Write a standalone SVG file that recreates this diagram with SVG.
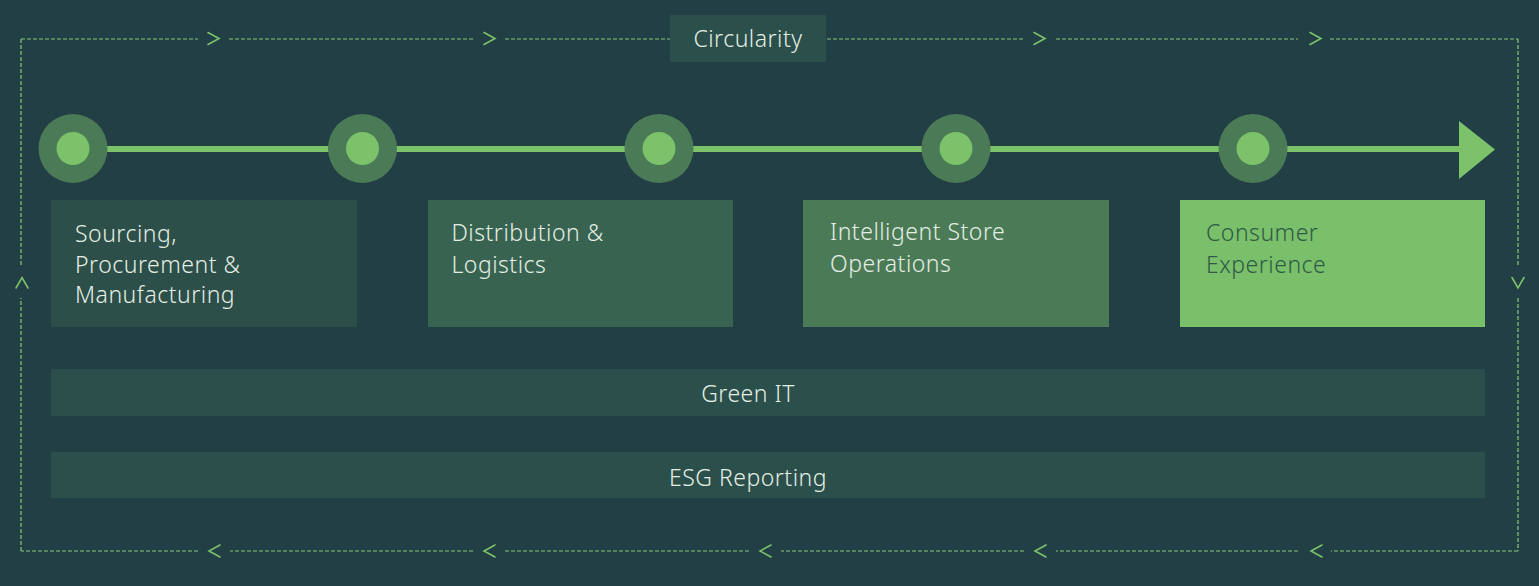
<svg xmlns="http://www.w3.org/2000/svg" width="1539" height="586" viewBox="0 0 1539 586">
  <defs>
    <style>
      .lbl { font-family: "Noto Sans", "Liberation Sans", sans-serif; font-size: 23px; font-weight: 300; letter-spacing: 0.5px; fill: #e4eee4; }
      .lbl-dark { fill: #2e5a46; }
      .mid { text-anchor: middle; }
      .dash { stroke: #86c875; stroke-width: 1.2; stroke-dasharray: 4 2; fill: none; }
      .chev { stroke: #7bc26a; stroke-width: 1.6; fill: none; stroke-linecap: round; stroke-linejoin: miter; }
      .halo { fill: #4b7b56; }
      .dot { fill: #7bc26a; }
    </style>
  </defs>

  <!-- background -->
  <rect x="0" y="0" width="1539" height="586" fill="#233f46"/>

  <!-- circular loop frame with direction chevrons -->
  <g id="connectors">
    <!-- top run -->
    <path class="dash" d="M21 39H198 M229 39H473 M505 39H670 M827 39H1023 M1056 39H1298 M1330 39H1518"/>
    <!-- right run -->
    <path class="dash" d="M1518 39V265 M1518 298V551"/>
    <!-- bottom run -->
    <path class="dash" d="M1518 551H1331 M1298 551H1056 M1024 551H781 M749 551H505 M473 551H230 M198 551H21"/>
    <!-- left run -->
    <path class="dash" d="M21 551V298 M21 265V39"/>

    <!-- top chevrons (pointing right) -->
    <polyline class="chev" points="208,32.5 219,38.5 208,44.5"/>
    <polyline class="chev" points="484,32.5 495,38.5 484,44.5"/>
    <polyline class="chev" points="1034,32.5 1045,38.5 1034,44.5"/>
    <polyline class="chev" points="1310,32.5 1321,38.5 1310,44.5"/>
    <!-- right chevron (pointing down) -->
    <polyline class="chev" points="1512,277.5 1518,288 1524,277.5"/>
    <!-- bottom chevrons (pointing left) -->
    <polyline class="chev" points="220,545 209,551 220,557"/>
    <polyline class="chev" points="495,545 484,551 495,557"/>
    <polyline class="chev" points="771,545 760,551 771,557"/>
    <polyline class="chev" points="1046,545 1035,551 1046,557"/>
    <polyline class="chev" points="1322,545 1311,551 1322,557"/>
    <!-- left chevron (pointing up) -->
    <polyline class="chev" points="16,288 22,277.5 28,288"/>

    <!-- value-chain timeline -->
    <rect x="72" y="146" width="1390" height="6" fill="#7bc26a"/>
    <polygon points="1459,121 1495,149.5 1459,179" fill="#7bc26a"/>
  </g>

  <g id="circularity">
    <rect x="670" y="15" width="156" height="47" fill="#2b4f4a"/>
    <text class="lbl mid" x="748" y="47">Circularity</text>
  </g>

  <!-- timeline milestones -->
  <g id="milestone-1"><circle class="halo" cx="73" cy="148.5" r="34.5"/><circle class="dot" cx="73" cy="148.5" r="16.5"/></g>
  <g id="milestone-2"><circle class="halo" cx="362.5" cy="148.5" r="34.5"/><circle class="dot" cx="362.5" cy="148.5" r="16.5"/></g>
  <g id="milestone-3"><circle class="halo" cx="659" cy="148.5" r="34.5"/><circle class="dot" cx="659" cy="148.5" r="16.5"/></g>
  <g id="milestone-4"><circle class="halo" cx="956" cy="148.5" r="34.5"/><circle class="dot" cx="956" cy="148.5" r="16.5"/></g>
  <g id="milestone-5"><circle class="halo" cx="1253" cy="148.5" r="34.5"/><circle class="dot" cx="1253" cy="148.5" r="16.5"/></g>

  <!-- stages -->
  <g id="sourcing">
    <rect x="51" y="200" width="306" height="127" fill="#2c4f4a"/>
    <text class="lbl" x="75" y="241.5">Sourcing,</text>
    <text class="lbl" x="75" y="272.5">Procurement &amp;</text>
    <text class="lbl" x="75" y="302.5">Manufacturing</text>
  </g>

  <g id="distribution">
    <rect x="428" y="200" width="305" height="127" fill="#386351"/>
    <text class="lbl" x="451.5" y="241">Distribution &amp;</text>
    <text class="lbl" x="451.5" y="272.5">Logistics</text>
  </g>

  <g id="store-operations">
    <rect x="803" y="200" width="306" height="127" fill="#4b7b56"/>
    <text class="lbl" x="830" y="240">Intelligent Store</text>
    <text class="lbl" x="830" y="271.5">Operations</text>
  </g>

  <g id="consumer-experience">
    <rect x="1180" y="200" width="305" height="127" fill="#7abf6a"/>
    <text class="lbl lbl-dark" x="1206" y="241">Consumer</text>
    <text class="lbl lbl-dark" x="1206" y="272.5">Experience</text>
  </g>

  <!-- cross-cutting layers -->
  <g id="green-it">
    <rect x="51" y="369" width="1434" height="47" fill="#2b4f4a"/>
    <text class="lbl mid" x="748" y="401.5">Green IT</text>
  </g>

  <g id="esg-reporting">
    <rect x="51" y="452" width="1434" height="46" fill="#2b4f4a"/>
    <text class="lbl mid" x="748" y="485.5">ESG Reporting</text>
  </g>
</svg>
